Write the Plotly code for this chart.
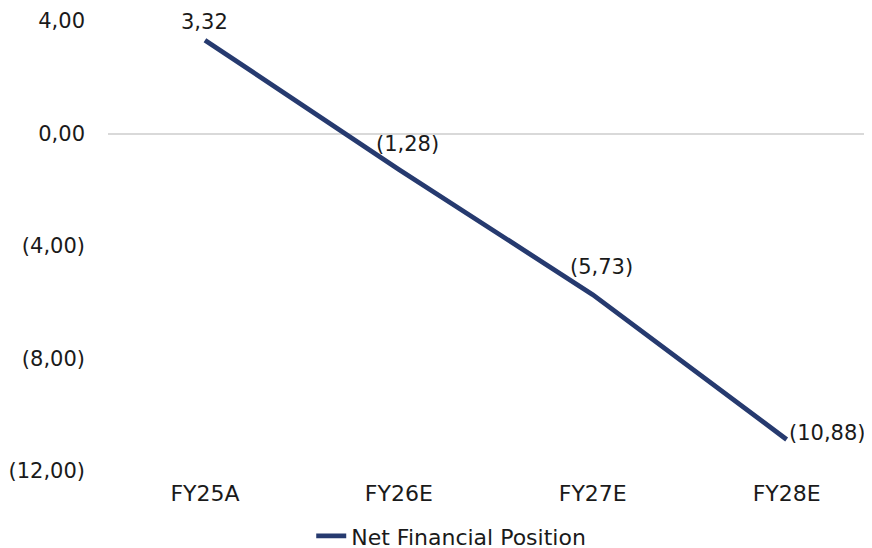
import plotly.graph_objects as go

categories = ["FY25A", "FY26E", "FY27E", "FY28E"]
values = [3.32, -1.28, -5.73, -10.88]
value_labels = ["3,32", "(1,28)", "(5,73)", "(10,88)"]
y_tickvals = [4, 0, -4, -8, -12]
y_ticktext = ["4,00", "0,00", "(4,00)", "(8,00)", "(12,00)"]
series_name = "Net Financial Position"

NAVY = "#263a6f"
FONT = "DejaVu Sans, sans-serif"
FS = 21
TXT = "#1a1a1a"

fig = go.Figure()
fig.add_trace(go.Scatter(
    x=list(range(len(categories))), y=values, mode="lines",
    line=dict(color=NAVY, width=4.8), name=series_name,
))

label_pos = [
    dict(xshift=0, yshift=18, xanchor="center", yanchor="middle"),
    dict(xshift=9, yshift=26, xanchor="center", yanchor="middle"),
    dict(xshift=9, yshift=28, xanchor="center", yanchor="middle"),
    dict(xshift=0, yshift=7, xanchor="left", yanchor="middle"),
]
for i, (v, t) in enumerate(zip(values, value_labels)):
    fig.add_annotation(x=i, y=v, text=t, showarrow=False,
                       font=dict(size=FS, color=TXT, family=FONT),
                       **label_pos[i])

# page body has an 8px margin, so the figure is drawn 8px right/down
fig.update_layout(
    width=864, height=540,
    margin=dict(l=100, r=2, t=13, b=77, autoexpand=False),
    paper_bgcolor="white", plot_bgcolor="white",
    font=dict(family=FONT, size=FS, color=TXT),
    showlegend=True,
    legend=dict(orientation="h", xref="container", yref="container",
                x=0.513, xanchor="center", y=0.022, yanchor="middle",
                font=dict(size=22, color=TXT), bgcolor="rgba(0,0,0,0)"),
    xaxis=dict(range=[-0.5, 3.43], tickvals=list(range(len(categories))),
               ticktext=categories, showgrid=False, zeroline=False,
               showline=False, ticks="", ticklabelstandoff=7, automargin=False,
               tickfont=dict(size=22)),
    yaxis=dict(range=[-12, 4], tickvals=y_tickvals, ticktext=y_ticktext,
               showgrid=False, zeroline=True, zerolinecolor="#d9d9d9",
               zerolinewidth=1.5, showline=False, ticks="",
               ticklabelstandoff=22, automargin=False),
)

fig.write_html("out.html")
